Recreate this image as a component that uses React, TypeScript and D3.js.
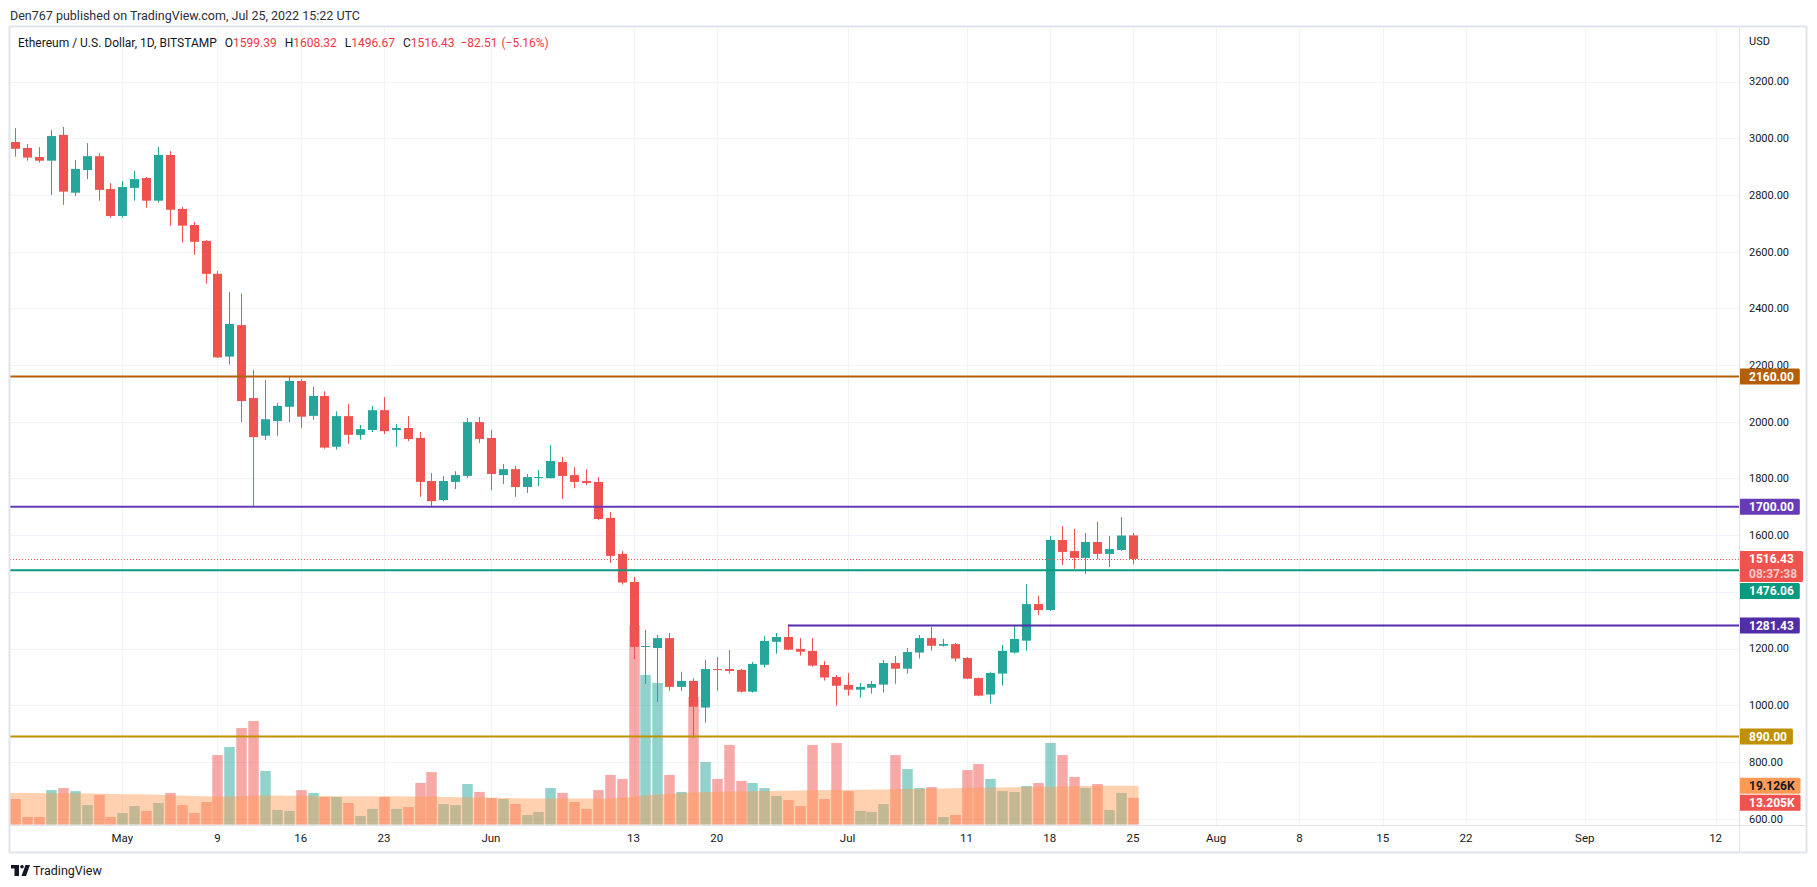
import React from 'react';
import * as d3 from 'd3';

// daily ETH/USD candles, first one is Apr 22 2022
const firstDay = [2022, 3, 22];

const opens = [
  2987, 2966, 2934, 2921, 3012, 2808, 2888, 2937, 2821, 2726,
  2825, 2860, 2780, 2941, 2751, 2694, 2638, 2522, 2230, 2341,
  2084, 1951, 2003, 2053, 2144, 2021, 2091, 1912, 2020, 1954,
  1971, 2041, 1971, 1978, 1943, 1791, 1724, 1788, 1809, 1999,
  1943, 1812, 1833, 1770, 1803, 1801, 1858, 1812, 1791, 1788,
  1661, 1534, 1435, 1206, 1202, 1237, 1065, 1086, 992, 1128,
  1128, 1125, 1048, 1143, 1224, 1241, 1199, 1192, 1142, 1100,
  1072, 1055, 1062, 1073, 1149, 1129, 1186, 1237, 1210, 1216,
  1167, 1096, 1038, 1112, 1186, 1228, 1357, 1336, 1583, 1544,
  1520, 1576, 1534, 1548, 1599.39,
];
const highs = [
  3036, 2980, 2969, 3029, 3040, 2923, 2983, 2948, 2842, 2849,
  2885, 2863, 2969, 2955, 2758, 2705, 2641, 2532, 2458, 2452,
  2183, 2147, 2066, 2159, 2150, 2123, 2108, 2037, 2063, 1989,
  2056, 2087, 1992, 2020, 1964, 1819, 1809, 1826, 2013, 2017,
  1971, 1851, 1844, 1816, 1830, 1918, 1876, 1840, 1833, 1805,
  1682, 1544, 1453, 1266, 1248, 1255, 1118, 1095, 1160, 1170,
  1195, 1128, 1153, 1244, 1255, 1284, 1237, 1237, 1156, 1107,
  1114, 1079, 1086, 1160, 1174, 1202, 1248, 1276, 1234, 1220,
  1170, 1098, 1118, 1213, 1280, 1428, 1386, 1597, 1632, 1622,
  1608, 1647, 1597, 1664, 1608.32,
];
const lows = [
  2935, 2921, 2914, 2800, 2765, 2796, 2856, 2780, 2720, 2720,
  2780, 2755, 2773, 2692, 2632, 2589, 2487, 2225, 2202, 1999,
  1700, 1936, 1951, 1999, 1978, 2007, 1905, 1902, 1923, 1937,
  1964, 1957, 1912, 1932, 1735, 1703, 1720, 1763, 1802, 1925,
  1759, 1780, 1735, 1749, 1773, 1801, 1728, 1766, 1777, 1653,
  1502, 1426, 1163, 1075, 1012, 1051, 1051, 884, 939, 1052,
  1112, 1045, 1045, 1133, 1182, 1194, 1175, 1136, 1087, 999,
  1034, 1027, 1041, 1045, 1076, 1112, 1165, 1193, 1207, 1154,
  1092, 1032, 1006, 1069, 1182, 1193, 1318, 1333, 1495, 1481,
  1463, 1516, 1488, 1545, 1496.67,
];
const closes = [
  2963, 2932, 2921, 3008, 2812, 2892, 2937, 2818, 2726, 2828,
  2856, 2780, 2941, 2748, 2692, 2635, 2522, 2227, 2345, 2073,
  1946, 2009, 2056, 2144, 2018, 2091, 1909, 2020, 1954, 1974,
  2041, 1967, 1978, 1939, 1788, 1720, 1791, 1812, 1999, 1939,
  1816, 1833, 1770, 1805, 1805, 1862, 1809, 1788, 1784, 1657,
  1527, 1433, 1206, 1209, 1237, 1065, 1086, 995, 1128, 1126,
  1121, 1048, 1146, 1227, 1241, 1196, 1189, 1140, 1098, 1069,
  1055, 1065, 1075, 1149, 1129, 1188, 1237, 1210, 1216, 1165,
  1094, 1034, 1114, 1192, 1234, 1357, 1336, 1583, 1541, 1520,
  1576, 1534, 1551, 1598.94, 1516.43,
];
// volume in thousands
const volumes = [
  12.6, 3.7, 3.7, 17.0, 18.0, 16.5, 9.6, 14.6, 3.7, 5.7,
  9.1, 6.7, 10.6, 15.6, 9.6, 5.7, 11.1, 34.3, 38.3, 47.7,
  51.1, 26.4, 7.2, 6.7, 17.0, 15.6, 13.6, 13.6, 10.6, 4.2,
  7.7, 13.6, 7.7, 8.6, 20.5, 25.9, 10.1, 9.6, 20.0, 16.1,
  13.1, 12.6, 10.1, 4.7, 6.2, 18.0, 15.6, 11.1, 7.7, 17.0,
  24.5, 22.5, 98.6, 73.9, 69.9, 24.5, 16.1, 63.0, 30.9, 22.5,
  39.3, 21.5, 20.5, 18.0, 14.1, 12.1, 9.1, 39.3, 12.6, 40.3,
  16.5, 6.7, 6.2, 10.1, 34.3, 27.4, 18.0, 18.5, 3.7, 4.7,
  26.9, 29.9, 22.5, 16.5, 16.1, 19.0, 20.5, 40.3, 34.3, 23.5,
  18.0, 20.0, 7.2, 15.6, 13.205,
];
const volumeMA = [
  15.6, 15.6, 15.5, 15.5, 15.4, 15.4, 15.3, 15.2, 15.1, 15.0,
  14.9, 14.8, 14.7, 14.5, 14.3, 14.1, 13.9, 13.8, 13.9, 14.0,
  14.2, 14.3, 14.3, 14.2, 14.2, 14.1, 14.1, 14.0, 14.0, 14.0,
  14.0, 13.9, 13.9, 13.8, 13.8, 13.7, 13.6, 13.5, 13.4, 13.3,
  13.2, 13.1, 13.0, 12.9, 12.8, 12.8, 12.8, 12.8, 12.8, 12.8,
  12.9, 13.2, 13.7, 14.3, 14.8, 15.2, 15.5, 15.8, 16.0, 16.1,
  16.2, 16.3, 16.4, 16.5, 16.6, 16.7, 16.8, 16.9, 17.0, 17.0,
  17.1, 17.2, 17.2, 17.3, 17.4, 17.5, 17.6, 17.7, 17.8, 17.9,
  18.0, 18.1, 18.2, 18.3, 18.4, 18.5, 18.6, 18.7, 18.8, 18.9,
  19.0, 19.0, 19.1, 19.1, 19.126,
];

const priceTicks = [600, 800, 1000, 1200, 1400, 1600, 1800, 2000, 2200, 2400, 2600, 2800, 3000, 3200];
const dateTicks = [
  [2022, 4, 1], [2022, 4, 9], [2022, 4, 16], [2022, 4, 23], [2022, 5, 1], [2022, 5, 13],
  [2022, 5, 20], [2022, 6, 1], [2022, 6, 11], [2022, 6, 18], [2022, 6, 25], [2022, 7, 1],
  [2022, 7, 8], [2022, 7, 15], [2022, 7, 22], [2022, 8, 1], [2022, 8, 12],
];

// horizontal drawings
const levelPrices = [2160, 1700, 1476.06, 1281.43, 890];
const levelStartIndex = [0, 0, 0, 65, 0]; // candle where the line begins (0 = left edge)
const levelColors = ['#b45f06', '#673ab7', '#089981', '#512da8', '#bf9000'];

const UP = '#26a69a';
const DOWN = '#ef5350';
const FONT = 'Roboto, "Liberation Sans", sans-serif';

let measureCtx: CanvasRenderingContext2D | null = null;
function textWidth(s: string, font: string) {
  if (!measureCtx) measureCtx = document.createElement('canvas').getContext('2d');
  if (!measureCtx) return s.length * 6.5;
  measureCtx.font = font;
  return measureCtx.measureText(s).width;
}

const utc = (a: number[]) => new Date(Date.UTC(a[0], a[1], a[2]));

export default function App() {
  const W = 1817;
  const H = 887;
  const plot = { left: 10, right: 1739, top: 27, bottom: 825 };
  const frameRight = 1806;
  const frameBottom = 852;

  const dates = opens.map((_, i) => new Date(Date.UTC(firstDay[0], firstDay[1], firstDay[2] + i)));

  const x = d3.scaleUtc()
    .domain([utc(firstDay), utc([2022, 8, 12])])
    .range([15.3, 1715.6]);
  const y = d3.scaleLinear().domain([1000, 3000]).range([705.3, 138.3]);
  const yVol = d3.scaleLinear().domain([0, 100]).range([824.5, 622.1]);

  const cx = (i: number) => Math.round(x(dates[i]));

  const maPts: [number, number][] = volumeMA.map((m, i) => [x(dates[i]), yVol(m)]);
  maPts.unshift([plot.left, yVol(volumeMA[0])]);
  maPts.push([x(dates[dates.length - 1]) + 5.5, yVol(volumeMA[volumeMA.length - 1])]);
  const maArea = d3.area<[number, number]>()
    .x(d => d[0])
    .y0(yVol(0))
    .y1(d => d[1])
    .curve(d3.curveMonotoneX)(maPts);

  const fmtDay = d3.utcFormat('%-d');
  const fmtMon = d3.utcFormat('%b');

  // labels on the price scale
  const last = closes.length - 1;
  const change = closes[last] - closes[last - 1];
  const changePct = change / closes[last - 1] * 100;
  const labelFont = `bold 12px ${FONT}`;
  type Lab = { y: number; h: number; text: string; sub?: string; bg: string; fg: string };
  const labs: Lab[] = [
    { y: y(levelPrices[0]), h: 16, text: levelPrices[0].toFixed(2), bg: levelColors[0], fg: '#fff' },
    { y: y(levelPrices[1]), h: 16, text: levelPrices[1].toFixed(2), bg: levelColors[1], fg: '#fff' },
    { y: y(closes[last]), h: 31, text: closes[last].toFixed(2), sub: '08:37:38', bg: DOWN, fg: '#fff' },
    { y: y(levelPrices[2]), h: 16, text: levelPrices[2].toFixed(2), bg: levelColors[2], fg: '#fff' },
    { y: y(levelPrices[3]), h: 16, text: levelPrices[3].toFixed(2), bg: levelColors[3], fg: '#fff' },
    { y: y(levelPrices[4]), h: 16, text: levelPrices[4].toFixed(2), bg: levelColors[4], fg: '#fff' },
    { y: yVol(volumeMA[last]), h: 16, text: volumeMA[last].toFixed(3) + 'K', bg: '#ff9a55', fg: '#131722' },
    { y: yVol(volumes[last]), h: 16, text: volumes[last].toFixed(3) + 'K', bg: DOWN, fg: '#fff' },
  ];
  let prevBottom = -Infinity;
  const placed = labs
    .map(l => ({ ...l, top: l.y - 8 }))
    .sort((a, b) => a.top - b.top)
    .map(l => {
      const top = Math.max(l.top, prevBottom + 1);
      prevBottom = top + l.h;
      return { ...l, top };
    });
  // tick labels hidden behind a coloured label are not drawn
  const visibleTicks = priceTicks.filter(p => !placed.some(l => y(p) > l.top && y(p) < l.top + l.h));

  const red = '#f23645';

  return (
    <svg width={W} height={H} style={{ position: 'absolute', left: 0, top: 0, background: '#fff' }}
      fontFamily={FONT}>
      <defs>
        <clipPath id="plotClip">
          <rect x={plot.left} y={plot.top} width={plot.right - plot.left} height={plot.bottom - plot.top} />
        </clipPath>
        <clipPath id="axisClip">
          <rect x={plot.right} y={plot.top} width={frameRight - plot.right} height={plot.bottom - plot.top} />
        </clipPath>
      </defs>
      <rect width={W} height={H} fill="#fff" />

      <text x={10} y={20} fontSize={12.5} fill="#2a2e39">
        Den767 published on TradingView.com, Jul 25, 2022 15:22 UTC
      </text>

      {/* grid */}
      <g clipPath="url(#plotClip)" stroke="#f0f3fa" strokeWidth={1}>
        {priceTicks.map(p => (
          <line key={p} x1={plot.left} x2={plot.right} y1={Math.round(y(p)) + 0.5} y2={Math.round(y(p)) + 0.5} />
        ))}
        {dateTicks.map((d, i) => (
          <line key={i} x1={Math.round(x(utc(d))) + 0.5} x2={Math.round(x(utc(d))) + 0.5} y1={plot.top} y2={plot.bottom} />
        ))}
      </g>

      <g clipPath="url(#plotClip)">
        {/* volume */}
        {volumes.map((v, i) => (
          <rect key={i} x={cx(i) - 4.75} width={10.5} y={yVol(v)} height={yVol(0) - yVol(v)}
            fill={closes[i] >= opens[i] ? UP : DOWN} fillOpacity={0.5} />
        ))}
        <path d={maArea || ''} fill="rgb(255,152,80)" fillOpacity={0.45} />

        {/* candles */}
        {opens.map((o, i) => {
          const c = closes[i];
          const col = c >= o ? UP : DOWN;
          const top = y(Math.max(o, c));
          const h = Math.max(1, Math.abs(y(o) - y(c)));
          return (
            <g key={i}>
              <rect x={cx(i)} width={1} y={y(highs[i])} height={y(lows[i]) - y(highs[i])} fill={col} />
              <rect x={cx(i) - 4} width={9} y={top} height={h} fill={col} />
            </g>
          );
        })}

        {/* drawings */}
        {levelPrices.map((p, i) => (
          <line key={p}
            x1={levelStartIndex[i] === 0 ? plot.left : cx(levelStartIndex[i])}
            x2={plot.right} y1={y(p)} y2={y(p)} stroke={levelColors[i]} strokeWidth={2} />
        ))}
        <line x1={plot.left} x2={plot.right} y1={Math.round(y(closes[last])) + 0.5} y2={Math.round(y(closes[last])) + 0.5}
          stroke={DOWN} strokeWidth={1} strokeDasharray="1 2" />
      </g>

      {/* legend */}
      <text x={18} y={47} fontSize={12} fill="#131722">
        <tspan>Ethereum / U.S. Dollar, 1D, BITSTAMP</tspan>
        <tspan dx={8}>O</tspan><tspan fill={red}>{opens[last].toFixed(2)}</tspan>
        <tspan dx={8}>H</tspan><tspan fill={red}>{highs[last].toFixed(2)}</tspan>
        <tspan dx={8}>L</tspan><tspan fill={red}>{lows[last].toFixed(2)}</tspan>
        <tspan dx={8}>C</tspan><tspan fill={red}>{closes[last].toFixed(2)}</tspan>
        <tspan dx={6} fill={red}>{'\u2212' + Math.abs(change).toFixed(2)}</tspan>
        <tspan dx={4} fill={red}>{'(\u2212' + Math.abs(changePct).toFixed(2) + '%)'}</tspan>
      </text>

      {/* price axis */}
      <text x={1749} y={45} fontSize={11} fill="#131722">USD</text>
      <g clipPath="url(#axisClip)" fontSize={11} fill="#131722">
        {visibleTicks.map(p => (
          <text key={p} x={1749} y={y(p)} dy="0.35em">{p.toFixed(2)}</text>
        ))}
        {placed.map((l, i) => {
          const w = Math.max(textWidth(l.text, labelFont), l.sub ? textWidth(l.sub, labelFont) : 0);
          return (
            <g key={i}>
              <rect x={plot.right} y={l.top} width={w + 16} height={l.h} rx={1.5} fill={l.bg} />
              <text x={1749} y={l.top + 8} dy="0.36em" fontSize={12} fontWeight="bold" fill={l.fg}>{l.text}</text>
              {l.sub && (
                <text x={1749} y={l.top + 23} dy="0.36em" fontSize={12} fontWeight="bold" fill="#fff" fillOpacity={0.7}>{l.sub}</text>
              )}
            </g>
          );
        })}
      </g>

      {/* time axis */}
      <g fontSize={11.5} fill="#131722" textAnchor="middle">
        {dateTicks.map((d, i) => {
          const dt = utc(d);
          return (
            <text key={i} x={x(dt)} y={842}>{dt.getUTCDate() === 1 ? fmtMon(dt) : fmtDay(dt)}</text>
          );
        })}
      </g>

      {/* frame */}
      <g stroke="#e0e3eb" strokeWidth={1} fill="none">
        <rect x={plot.left - 0.5} y={plot.top - 0.5} width={frameRight - plot.left + 1} height={frameBottom - plot.top + 1} strokeWidth={2} />
        <line x1={plot.right + 0.5} x2={plot.right + 0.5} y1={plot.top} y2={frameBottom} />
        <line x1={plot.left} x2={frameRight} y1={plot.bottom + 0.5} y2={plot.bottom + 0.5} />
      </g>

      {/* logo */}
      <g fill="#131722">
        <rect x={11} y={865} width={8} height={3.5} />
        <rect x={14.5} y={865} width={4.5} height={11} />
        <circle cx={22} cy={866.8} r={1.8} />
        <path d="M25.5 865 L30 865 L26 876 L21.5 876 Z" />
      </g>
      <text x={33} y={875} fontSize={12.5} fill="#131722">TradingView</text>
    </svg>
  );
}
